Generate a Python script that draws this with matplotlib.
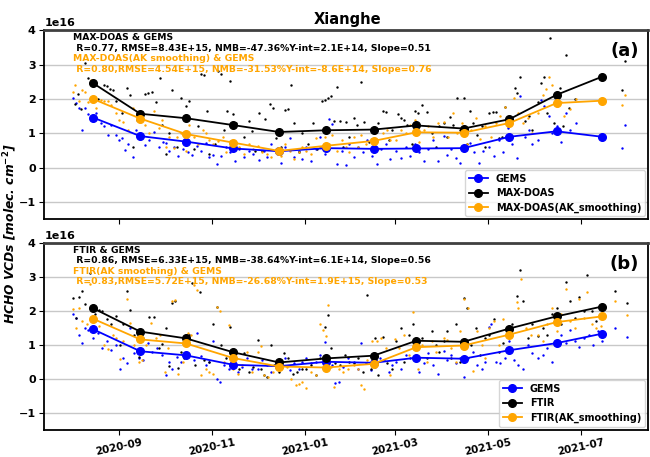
import numpy as np
import pandas as pd
import matplotlib
matplotlib.use("Agg")
import matplotlib.pyplot as plt
import matplotlib.dates as mdates

plt.rcParams['font.family'] = ['DejaVu Sans']
plt.rcParams['font.weight'] = 'bold'

BASE = pd.Timestamp("2020-08-01")
SCALE = 1e16

# ---- monthly means (units of 1e16 molec/cm2), plotted on the 15th of each month
month_days = [14, 45, 75, 106, 136, 167, 198, 226, 257, 287, 318, 348]

gems_a_mean = [1.46, 0.92, 0.76, 0.56, 0.48, 0.57, 0.55, 0.56, 0.57, 0.90, 1.06, 0.90]
maxdoas_mean = [2.46, 1.57, 1.44, 1.24, 1.04, 1.09, 1.11, 1.23, 1.14, 1.41, 2.12, 2.65]
maxdoas_ak_mean = [2.00, 1.43, 0.98, 0.73, 0.49, 0.64, 0.78, 1.03, 1.02, 1.30, 1.88, 1.95]

gems_b_mean = [1.46, 0.81, 0.69, 0.41, 0.37, 0.50, 0.47, 0.62, 0.59, 0.84, 1.05, 1.33]
ftir_mean = [2.08, 1.39, 1.19, 0.78, 0.48, 0.60, 0.68, 1.12, 1.09, 1.48, 1.84, 2.13]
ftir_ak_mean = [1.77, 1.16, 1.04, 0.61, 0.36, 0.33, 0.44, 0.93, 0.98, 1.30, 1.67, 1.84]

# ---- individual observations: day offset from 2020-08-01 and value (1e16)
maxdoas_days = [2, 4, 6, 9, 11, 14, 17, 21, 23, 25, 27, 29,
                33, 36, 38, 40, 43, 46, 48, 50, 53, 55, 58, 59,
                62, 64, 66, 69, 72, 75, 77, 80, 83, 85, 87, 89, 90,
                94, 96, 98, 100, 102, 104, 106, 108, 110, 113, 116, 118, 120,
                123, 125, 127, 130, 132, 134, 137, 140, 142, 144, 146, 149, 151,
                155, 158, 161, 164, 166, 168, 170, 172, 174, 176, 178, 180, 182,
                185, 187, 190, 192, 195, 198, 201, 204, 206, 208, 210,
                214, 216, 218, 220, 223, 225, 227, 230, 233, 236, 239, 241,
                244, 246, 248, 250, 253, 255, 257, 259, 261, 263, 266, 269, 271,
                274, 276, 278, 280, 282, 284, 286, 288, 291, 292, 294, 297, 300, 302,
                306, 308, 310, 312, 314, 316, 318, 320, 322, 324, 326, 330,
                361, 363]
maxdoas_vals = [1.85, 2.15, 1.70, 3.05, 2.60, 2.45, 2.00, 2.42, 2.38, 2.30, 2.25, 1.95,
                1.60, 2.33, 2.12, 0.60, 1.40, 1.63, 2.13, 2.17, 2.21, 1.90, 2.60, 1.25,
                0.40, 1.00, 2.26, 0.60, 2.02, 1.80, 1.94, 0.55, 1.20, 2.72, 2.70, 1.65, 0.40,
                0.70, 2.80, 2.72, 1.10, 1.65, 2.52, 1.55, 1.30, 0.56, 0.90, 1.36, 1.06, 0.50,
                1.58, 0.50, 1.42, 1.84, 1.75, 0.86, 0.60, 1.68, 1.72, 2.42, 1.30, 0.45, 1.01,
                0.70, 1.30, 0.55, 1.93, 1.97, 2.04, 2.10, 1.36, 2.35, 1.36, 0.60, 1.32, 0.90,
                1.46, 1.23, 2.48, 1.34, 0.75, 0.65, 1.30, 1.65, 1.61, 0.80, 1.10,
                1.56, 1.46, 1.39, 1.23, 0.70, 1.65, 1.60, 1.82, 1.63, 1.00, 0.60, 1.20,
                1.30, 0.90, 1.49, 1.25, 2.02, 1.10, 2.02, 0.70, 1.66, 1.30, 0.95, 1.20, 0.60,
                1.58, 1.63, 1.63, 0.86, 0.90, 1.78, 1.20, 1.45, 2.31, 2.16, 2.64, 1.35, 1.51, 1.10,
                1.90, 2.47, 2.64, 1.60, 3.78, 1.30, 2.10, 2.31, 1.20, 3.27, 1.75, 2.00,
                2.26, 3.10]

maxdoas_ak_days = [1, 2, 5, 7, 9, 11, 13, 16, 19, 21, 24, 26, 29,
                   31, 34, 37, 40, 43, 46, 48, 51, 54, 57, 59,
                   62, 64, 67, 69, 72, 75, 77, 80, 83, 86, 88, 90,
                   93, 96, 99, 101, 104, 107, 110, 113, 116, 119,
                   122, 125, 128, 131, 134, 137, 140, 143, 146, 149, 151,
                   154, 157, 160, 163, 166, 169, 171, 174, 177, 180, 182,
                   185, 188, 190, 193, 196, 199, 201, 204, 207, 209,
                   213, 216, 219, 222, 225, 228, 231, 234, 237, 240,
                   244, 247, 250, 253, 256, 259, 262, 265, 268, 271,
                   275, 278, 281, 284, 287, 290, 293, 296, 299, 302,
                   306, 309, 311, 313, 315, 318, 321, 323, 327, 331,
                   361, 363]
maxdoas_ak_vals = [2.20, 2.42, 1.95, 2.26, 2.20, 1.92, 2.55, 1.75, 1.97, 1.93, 1.94, 1.82, 1.60,
                   1.39, 1.34, 1.10, 1.73, 1.50, 1.54, 1.25, 1.00, 1.64, 1.15, 1.40,
                   0.60, 0.90, 0.58, 0.90, 1.01, 0.50, 1.25, 0.90, 0.70, 1.10, 1.01, 0.80,
                   0.68, 0.77, 0.90, 0.45, 0.77, 0.58, 0.60, 0.40, 0.70, 0.55,
                   0.62, 0.45, 0.40, 0.30, 0.55, 0.35, 0.70, 0.50, 0.25, 0.45, 0.60,
                   0.50, 0.40, 0.86, 0.60, 0.90, 0.70, 0.96, 0.50, 0.80, 0.60, 0.45,
                   0.90, 0.60, 0.96, 0.70, 0.85, 1.01, 0.55, 1.00, 1.10, 0.80,
                   0.80, 1.10, 1.00, 1.25, 1.40, 0.75, 1.10, 1.20, 0.90, 1.30,
                   1.34, 0.90, 1.58, 1.00, 1.30, 0.70, 1.10, 1.45, 0.85, 1.20,
                   0.90, 1.30, 1.50, 1.78, 1.20, 2.02, 1.60, 1.30, 1.45, 1.00,
                   1.60, 2.11, 2.30, 2.64, 2.40, 1.80, 1.90, 1.50, 1.70, 2.00,
                   1.82, 2.11]

gems_a_days = [1, 3, 5, 7, 9, 11, 13, 16, 19, 21, 24, 26, 29,
               31, 33, 35, 37, 40, 42, 45, 48, 51, 54, 57, 60,
               62, 64, 67, 70, 73, 76, 79, 82, 85, 88, 90,
               93, 95, 98, 101, 104, 107, 110, 113, 116, 119,
               123, 126, 128, 131, 134, 137, 140, 143, 146, 149, 151,
               154, 157, 160, 163, 166, 169, 171, 174, 177, 180, 182,
               185, 188, 191, 194, 197, 200, 203, 206, 209,
               213, 216, 219, 222, 225, 228, 231, 234, 237, 240,
               244, 246, 249, 252, 255, 258, 261, 264, 267, 270,
               274, 277, 280, 283, 286, 289, 292, 294, 297, 300, 302,
               306, 308, 310, 313, 315, 318, 321, 324, 327, 331,
               361, 363]
gems_a_vals = [2.04, 1.88, 1.73, 1.10, 1.73, 1.55, 1.40, 1.60, 1.30, 1.20, 0.96, 1.25, 0.95,
               0.80, 0.86, 0.53, 0.70, 0.31, 1.10, 0.90, 0.65, 0.80, 1.05, 0.60, 0.75,
               0.72, 0.48, 0.60, 0.35, 0.55, 0.46, 0.38, 0.62, 0.50, 0.72, 0.30,
               0.38, 0.10, 0.34, 0.60, 0.45, 0.20, 0.55, 0.30, 0.50, 0.40,
               0.24, 0.50, 0.30, 0.70, 0.45, 0.15, 0.60, 0.86, 0.32, 0.50, 0.25,
               0.60, 0.20, 0.55, 0.90, 0.40, 1.42, 1.27, 0.12, 0.50, 0.09, 0.70,
               0.30, 0.60, 0.45, 0.80, 0.35, 0.10, 0.55, 0.70, 0.25,
               0.50, 0.29, 0.60, 0.35, 0.70, 0.45, 0.20, 0.55, 0.80, 0.19,
               0.91, 0.38, 0.55, 0.29, 0.14, 0.60, 0.73, 0.45, 0.14, 0.50,
               0.60, 0.34, 0.80, 0.45, 1.15, 0.70, 0.29, 2.10, 0.90, 1.10, 0.70,
               0.80, 1.97, 1.80, 1.50, 1.00, 1.20, 0.75, 1.58, 1.10, 1.30,
               0.58, 1.24]

ftir_days = [1, 3, 5, 7, 9, 12, 15, 18, 20, 23, 26, 29,
             32, 34, 36, 38, 41, 44, 47, 51, 54, 57, 59,
             62, 64, 66, 68, 70, 72, 74, 77, 79, 81, 84, 87, 90,
             93, 95, 98, 101, 104, 107, 110, 113, 116, 119,
             122, 124, 126, 128, 131, 133, 136, 139, 142, 145, 148, 151,
             154, 157, 160, 163, 166, 168, 170, 173, 176, 179, 182,
             185, 188, 191, 194, 196, 199, 201, 204, 207, 210,
             213, 216, 218, 221, 224, 227, 230, 233, 236, 239, 241,
             244, 246, 249, 252, 255, 257, 259, 262, 265, 268, 271,
             274, 277, 280, 283, 286, 289, 292, 294, 296, 299, 302,
             306, 309, 312, 315, 318, 321, 324, 327, 330, 333,
             336, 338, 341, 344, 347,
             356, 364]
ftir_vals = [2.37, 1.78, 2.40, 2.59, 2.20, 3.12, 1.90, 2.02, 2.00, 1.75, 1.60, 1.85,
             1.00, 1.60, 2.59, 2.02, 1.30, 0.63, 1.20, 1.82, 1.82, 0.90, 1.03,
             1.50, 0.38, 2.24, 2.30, 0.33, 0.80, 0.60, 1.28, 2.83, 0.40, 2.55, 0.55, 0.50,
             1.60, 2.11, 1.00, 0.60, 1.54, 0.40, 0.30, 0.75, 0.20, 0.35,
             1.15, 0.30, 0.10, 0.05, 1.00, 0.40, 0.20, 0.77, 0.60, 0.15, 0.20, 0.30,
             0.29, 0.40, 0.10, 0.60, 1.54, 1.89, 0.90, 0.45, 0.40, 0.70, 0.50,
             0.45, 0.60, 0.20, 2.47, 0.30, 1.20, 0.10, 1.22, 0.45, 0.30,
             1.10, 1.50, 0.50, 1.30, 1.60, 0.90, 1.20, 0.60, 1.40, 1.00, 0.80,
             1.10, 1.40, 0.60, 1.60, 0.50, 2.38, 2.10, 1.00, 1.50, 0.70, 1.20,
             1.30, 1.75, 0.80, 1.05, 1.40, 1.60, 2.45, 3.20, 2.30, 1.20, 1.60,
             1.25, 1.50, 1.30, 1.90, 2.10, 1.60, 2.85, 2.30, 1.80, 2.40,
             2.00, 3.05, 2.00, 1.70, 1.90,
             2.59, 2.24]

ftir_ak_days = [1, 3, 5, 7, 10, 12, 15, 18, 21, 24, 27, 29,
                32, 34, 36, 38, 41, 44, 46, 49, 52, 55, 58,
                61, 63, 66, 68, 70, 73, 76, 78, 80, 82, 85, 88, 90,
                93, 95, 97, 100, 103, 106, 109, 112, 115, 118,
                122, 124, 126, 129, 132, 135, 138, 141, 144, 147, 149, 151,
                154, 157, 160, 163, 165, 167, 168, 170, 172, 175, 178, 181,
                185, 188, 190, 192, 194, 197, 200, 203, 206, 209,
                212, 215, 218, 221, 224, 227, 230, 233, 236, 239,
                244, 246, 249, 252, 255, 257, 260, 263, 266, 269, 271,
                274, 277, 280, 283, 286, 289, 292, 293, 295, 298, 301,
                306, 309, 312, 315, 318, 321, 324, 327, 330, 333,
                336, 338, 341, 344, 347,
                356, 364]
ftir_ak_vals = [2.07, 1.50, 2.10, 1.70, 1.60, 2.79, 1.45, 1.55, 1.00, 0.87, 1.30, 1.20,
                0.58, 1.10, 2.35, 1.65, 1.00, 0.48, 0.55, 1.00, 1.63, 1.20, 1.30,
                0.20, 0.90, 2.28, 2.33, 0.14, 0.50, 1.35, 1.30, 2.76, 2.62, 0.10, 0.30, 0.20,
                0.14, 2.13, 2.00, 0.50, 1.58, 0.30, 0.14, 0.40, 0.80, 0.20,
                0.80, 0.96, 0.10, 0.05, 0.20, 0.30, 0.50, 0.35, 0.00, -0.19, -0.17, -0.10,
                -0.26, 0.20, 0.10, 1.60, 1.45, 1.25, 2.18, 0.35, -0.24, 0.30, 0.20, 0.30,
                0.40, 0.30, -0.19, -0.29, 0.55, 1.10, 1.12, 1.20, 0.90, 0.12,
                1.18, 0.90, 1.30, 0.70, 1.97, 0.30, 1.00, 0.50, 1.10, 0.80,
                1.20, 1.15, 0.90, 0.50, 1.40, 2.35, 2.10, 0.24, 1.40, 1.00, 0.60,
                1.50, 1.70, 1.00, 1.75, 0.80, 1.30, 2.26, 2.10, 2.95, 1.50, 1.30,
                1.30, 1.10, 1.60, 2.10, 1.40, 1.90, 2.64, 1.70, 1.50, 2.35,
                1.80, 2.55, 1.60, 1.50, 1.55,
                2.30, 1.89]

gems_b_days = [1, 3, 5, 7, 9, 11, 14, 17, 20, 23, 26, 29,
               32, 34, 36, 38, 41, 44, 47, 50, 53, 56, 59,
               62, 64, 66, 69, 72, 75, 77, 80, 82, 85, 88, 90,
               93, 95, 97, 100, 103, 106, 109, 112, 115, 118,
               122, 125, 128, 131, 134, 137, 140, 143, 146, 149, 151,
               154, 157, 160, 163, 166, 168, 171, 173, 175, 178, 181,
               185, 188, 190, 193, 196, 199, 202, 205, 208, 210,
               213, 216, 219, 222, 225, 228, 231, 234, 237, 240,
               244, 246, 249, 252, 255, 257, 260, 263, 266, 269, 271,
               274, 275, 278, 281, 284, 287, 290, 293, 296, 299, 302,
               306, 309, 312, 315, 318, 321, 324, 327, 330, 333,
               336, 339, 342, 345, 348,
               356, 364]
gems_b_vals = [1.92, 1.78, 1.30, 1.06, 1.50, 1.44, 1.20, 1.35, 0.90, 1.10, 0.85, 1.00,
               0.29, 0.60, 0.46, 1.50, 0.75, 0.60, 0.55, 1.04, 0.80, 0.90, 0.70,
               0.10, 0.50, 0.30, 0.65, 0.50, 1.22, 1.30, 0.55, 1.35, 0.67, 0.40, 0.50,
               1.10, 0.00, -0.10, 0.40, 0.30, 0.55, 0.20, 0.35, 0.60, 0.30,
               0.30, 0.55, 0.40, 0.20, 0.50, 0.35, 0.60, 0.25, 0.45, 0.30, 0.50,
               0.60, 0.45, 0.50, 0.70, 1.09, 0.30, 0.40, -0.14, -0.10, 0.35, 0.60,
               0.50, 0.30, 1.06, 0.45, 0.25, 0.35, 0.60, 0.55, 0.20, 0.40,
               0.50, 0.30, 0.70, 0.60, 1.00, 0.20, 0.45, 0.75, 0.40, 0.15,
               0.82, 0.55, 0.70, 0.45, 0.60, 0.05, 0.62, 0.80, 0.40, 0.30, 0.50,
               1.54, 1.60, 0.50, 0.45, 0.60, 1.10, 0.55, 0.40, 0.29, 1.00, 0.75,
               0.60, 0.70, 0.90, 0.50, 1.00, 1.30, 1.05, 1.44, 1.10, 0.95,
               1.20, 1.30, 1.00, 1.40, 1.10,
               1.49, 1.22]

# ---- statistics text
stats_a = [("MAX-DOAS & GEMS", "black"),
           (" R=0.77, RMSE=8.43E+15, NMB=-47.36%Y-int=2.1E+14, Slope=0.51", "black"),
           ("MAX-DOAS(AK smoothing) & GEMS", "orange"),
           (" R=0.80,RMSE=4.54E+15, NMB=-31.53%Y-int=-8.6E+14, Slope=0.76", "orange")]
stats_b = [("FTIR & GEMS", "black"),
           (" R=0.86, RMSE=6.33E+15, NMB=-38.64%Y-int=6.1E+14, Slope=0.56", "black"),
           ("FTIR(AK smoothing) & GEMS", "orange"),
           (" R=0.83,RMSE=5.72E+15, NMB=-26.68%Y-int=1.9E+15, Slope=0.53", "orange")]


def to_dates(days):
    return BASE + pd.to_timedelta(np.asarray(days), unit="D")


def scaled(vals):
    return np.asarray(vals) * SCALE


fig = plt.figure(figsize=(6.5, 4.57), dpi=100)
ax1 = fig.add_axes([0.068, 0.520, 0.929, 0.414])
ax2 = fig.add_axes([0.068, 0.060, 0.929, 0.408])

panels = [
    (ax1, [(gems_a_days, gems_a_vals, "blue"),
           (maxdoas_days, maxdoas_vals, "black"),
           (maxdoas_ak_days, maxdoas_ak_vals, "orange")],
     [(gems_a_mean, "blue", "GEMS"),
      (maxdoas_mean, "black", "MAX-DOAS"),
      (maxdoas_ak_mean, "orange", "MAX-DOAS(AK_smoothing)")],
     stats_a, "(a)"),
    (ax2, [(gems_b_days, gems_b_vals, "blue"),
           (ftir_days, ftir_vals, "black"),
           (ftir_ak_days, ftir_ak_vals, "orange")],
     [(gems_b_mean, "blue", "GEMS"),
      (ftir_mean, "black", "FTIR"),
      (ftir_ak_mean, "orange", "FTIR(AK_smoothing)")],
     stats_b, "(b)"),
]

mdates_x = to_dates(month_days)
for ax, scat, means, stats, tag in panels:
    ax.grid(axis="y", color="#c8c8c8", linewidth=1.0, zorder=0)
    for d, v, c in scat:
        ax.scatter(to_dates(d), scaled(v), s=3, color=c, linewidths=0, zorder=2)
    for v, c, lab in means:
        ax.plot(mdates_x, scaled(v), "-o", color=c, markersize=5.5,
                linewidth=1.3, label=lab, zorder=3)
    ax.set_ylim(-1.5e16, 4e16)
    ax.set_yticks(np.arange(-1, 5) * SCALE)
    ax.set_xlim(pd.Timestamp("2020-07-14"), pd.Timestamp("2021-08-14"))
    ax.xaxis.set_major_locator(mdates.MonthLocator(bymonth=[1, 3, 5, 7, 9, 11]))
    ax.xaxis.set_major_formatter(mdates.DateFormatter("%Y-%m"))
    ax.tick_params(axis="y", labelsize=8, pad=2.5)
    ax.tick_params(axis="x", labelsize=7.5, pad=2)
    ax.yaxis.get_offset_text().set_fontsize(8)
    ax.yaxis.get_offset_text().set_fontweight("bold")
    for sp in ax.spines.values():
        sp.set_linewidth(1.3)
    ax.spines["top"].set_color("#404040")
    ax.spines["top"].set_linewidth(2.0)
    ax.text(0.985, 0.935, tag, transform=ax.transAxes, ha="right", va="top",
            fontsize=13, fontweight="bold")
    for i, (line, c) in enumerate(stats):
        ax.text(0.047, 0.985 - i * 0.056, line, transform=ax.transAxes,
                ha="left", va="top", fontsize=6.7, fontweight="bold", color=c)
    ax.legend(loc="lower right", prop={"weight": "bold", "size": 7.0},
              borderaxespad=0.3, handlelength=2.0, labelspacing=0.45)

ax1.tick_params(axis="x", labelbottom=False)
for lab in ax2.get_xticklabels():
    lab.set_rotation(12)
    lab.set_fontweight("bold")
for ax in (ax1, ax2):
    for lab in ax.get_yticklabels():
        lab.set_fontweight("bold")

fig.text(0.535, 0.958, "Xianghe", ha="center", va="center", fontsize=10.5,
         fontweight="bold")
fig.text(0.015, 0.49, "HCHO VCDs [molec. cm$^{-2}$]", rotation=90,
         ha="center", va="center", fontsize=8.8, fontweight="bold",
         fontstyle="italic")

fig.savefig("out.png", dpi=100)
